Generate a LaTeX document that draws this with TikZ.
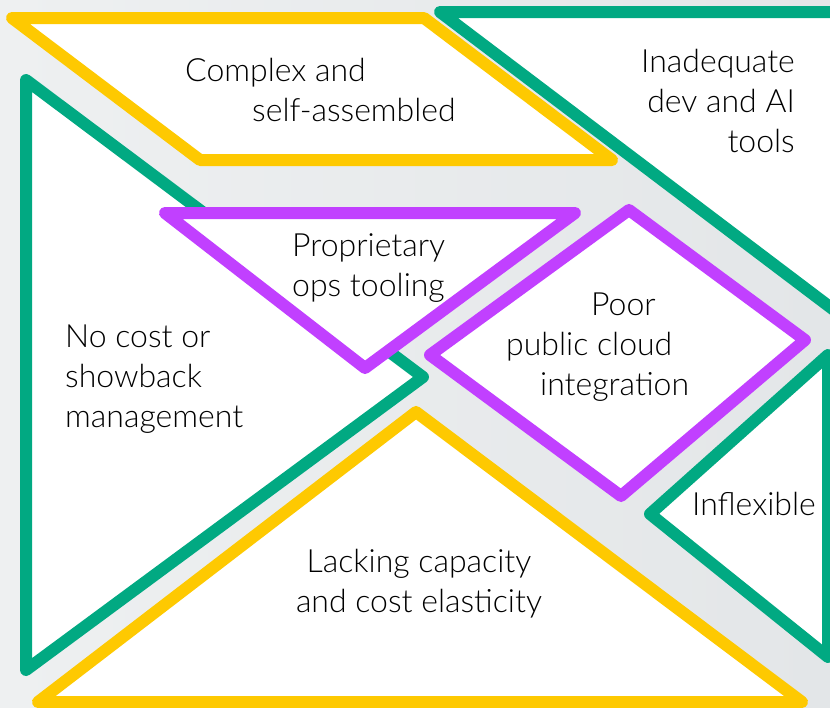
\documentclass[tikz,border=0pt]{standalone}
\usepackage{fontspec}
\setmainfont{Lato}[UprightFont=* Light]
\usepackage{tikz}
\usetikzlibrary{positioning}
\definecolor{hpeyellow}{HTML}{FEC901}
\definecolor{hpegreen}{HTML}{01A982}
\definecolor{hpepurple}{HTML}{C140FF}
\definecolor{gapgray}{HTML}{E3E6E8}
\definecolor{gaplight}{HTML}{EEF0F1}
\tikzset{
  piece/.style={fill=white, line width=12pt, line join=round},
  ypiece/.style={piece, draw=hpeyellow},
  gpiece/.style={piece, draw=hpegreen},
  ppiece/.style={piece, draw=hpepurple},
  lbl/.style={inner sep=0pt, font=\fontsize{32}{40}\selectfont}
}
\begin{document}
\begin{tikzpicture}[x=1pt, y=-1pt]
        % background
        \useasboundingbox (0,0) rectangle (830,707);
        \clip (0,0) rectangle (830,707);
        \shade[left color=gaplight, right color=gapgray] (0,0) rectangle (830,707);
        % top pieces
        \draw[ypiece] (12,18) -- (424,18) -- (612,160) -- (200,160) -- cycle;
        \draw[gpiece] (440,12) -- (900,12) -- (900,360) -- cycle;
        % left piece
        \draw[gpiece] (26,80) -- (423,377) -- (26,670) -- cycle;
        % middle pieces
        \draw[ppiece] (165,213) -- (575,213) -- (365,368) -- cycle;
        \draw[ppiece] (629,210) -- (805,340) -- (621,496) -- (430,355) -- cycle;
        % right piece
        \draw[gpiece] (650,514) -- (828,355) -- (828,657) -- cycle;
        % bottom piece
        \draw[ypiece] (416,412) -- (802,702) -- (38,702) -- cycle;
        % labels
        \node[lbl, align=left, anchor=west] (complex) at (185,90)
          {Complex and\\\hspace*{67pt}self-assembled};
        \node[lbl, align=right, anchor=east] (devtools) at (795,101)
          {Inadequate\\dev and AI\\tools};
        \node[lbl, align=left, anchor=west] (opstools) at (292,268.5)
          {Proprietary\\ops tooling};
        \node[lbl, align=left, anchor=west] (nocost) at (65,379)
          {No cost or\\showback\\management};
        \node[lbl, align=left, anchor=west] (cloud) at (506,347)
          {\hspace*{85pt}Poor\\public cloud\\\hspace*{34pt}integration};
        \node[lbl, anchor=base west] (inflex) at (692,515) {Inflexible};
        \node[lbl, align=center] (capacity) at (419,583.5)
          {Lacking capacity\\and cost elasticity};
\end{tikzpicture}
\end{document}
